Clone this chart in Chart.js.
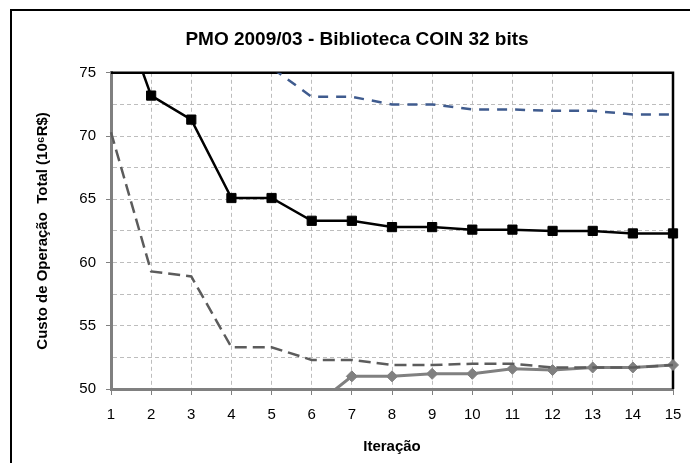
<!DOCTYPE html>
<html>
<head>
<meta charset="utf-8">
<script src="https://cdn.jsdelivr.net/npm/chart.js@4/dist/chart.umd.min.js"></script>
<style>
	html, body { margin: 0; padding: 0; background: #fff; }
	#wrap { width: 690px; height: 463px; position: relative; }
</style>
</head>
<body>
<div id="wrap"><canvas id="pmo-chart"></canvas></div>
<script>
'use strict';

// Iterations on the x axis
var iteracoes = ['1', '2', '3', '4', '5', '6', '7', '8', '9', '10', '11', '12', '13', '14', '15'];

// Black line with square markers
var custoTotal = [82, 73.2, 71.3, 65.1, 65.1, 63.3, 63.3, 62.8, 62.8, 62.6, 62.6, 62.5, 62.5, 62.3, 62.3];
// Blue dashed line (upper bound)
var limiteSuperior = [90, 85, 80, 77, 75.4, 73.1, 73.1, 72.5, 72.5, 72.1, 72.1, 72.0, 72.0, 71.7, 71.7];
// Grey dashed line
var limiteInferior = [70.3, 59.3, 58.9, 53.3, 53.3, 52.3, 52.3, 51.9, 51.9, 52.0, 52.0, 51.7, 51.7, 51.7, 51.9];
// Grey line with diamond markers
var custoInferior = [46, 46.5, 47, 47.5, 48, 48.5, 51.0, 51.0, 51.2, 51.2, 51.6, 51.5, 51.7, 51.7, 51.9];

// y axis range and ticks
var yMin = 50;
var yMax = 75;
var yStep = 2.5;

var fontFamily = '"Liberation Sans", Arial, sans-serif';
var clipArea = { left: 12, right: 12, top: 0, bottom: 0 };

// Outer frame plus the black top/right border of the plot area
var framePlugin = {
	id: 'frame',
	beforeDatasetsDraw: function (chart) {
		var ctx = chart.ctx;
		var a = chart.chartArea;
		ctx.save();
		ctx.strokeStyle = '#000';
		ctx.lineWidth = 2;
		ctx.strokeRect(11, 10, 720, 520);
		ctx.lineWidth = 2.5;
		ctx.beginPath();
		ctx.moveTo(a.left, a.top);
		ctx.lineTo(a.right, a.top);
		ctx.lineTo(a.right, a.bottom);
		ctx.stroke();
		ctx.restore();
	}
};

new Chart(document.getElementById('pmo-chart').getContext('2d'), {
	type: 'line',
	data: {
		labels: iteracoes,
		datasets: [
			{
				data: limiteSuperior,
				borderColor: '#3f5b8e',
				borderWidth: 2.5,
				borderDash: [10, 8],
				pointRadius: 0,
				tension: 0,
				clip: clipArea
			},
			{
				data: limiteInferior,
				borderColor: '#5c5c5c',
				borderWidth: 2.5,
				borderDash: [12, 6],
				pointRadius: 0,
				tension: 0,
				clip: clipArea
			},
			{
				data: custoInferior,
				borderColor: '#808080',
				backgroundColor: '#808080',
				borderWidth: 3,
				pointStyle: 'rectRot',
				pointRadius: 5.5,
				pointBorderWidth: 1,
				tension: 0,
				clip: clipArea
			},
			{
				data: custoTotal,
				borderColor: '#000',
				backgroundColor: '#000',
				borderWidth: 2.5,
				pointStyle: 'rect',
				pointRadius: 6.5,
				pointBorderWidth: 1,
				tension: 0,
				clip: clipArea
			}
		]
	},
	options: {
		responsive: true,
		maintainAspectRatio: false,
		animation: false,
		layout: { padding: { left: 24, top: 0, right: 0, bottom: 0 } },
		plugins: {
			legend: { display: false },
			tooltip: { enabled: false },
			title: {
				display: true,
				text: 'PMO 2009/03 - Biblioteca COIN 32 bits',
				color: '#000',
				font: { family: fontFamily, size: 19, weight: 'bold', lineHeight: 1.2 },
				padding: { top: 28, bottom: 22 }
			}
		},
		scales: {
			x: {
				type: 'category',
				offset: false,
				grid: {
					offset: false,
					color: '#bdbdbd',
					lineWidth: 1,
					tickLength: 6,
					tickColor: '#808080',
					tickWidth: 1
				},
				border: { color: '#808080', width: 3, dash: [4, 3] },
				ticks: {
					autoSkip: false,
					maxRotation: 0,
					color: '#000',
					padding: 11,
					font: { family: fontFamily, size: 15 }
				},
				title: {
					display: true,
					text: 'Iteração',
					color: '#000',
					font: { family: fontFamily, size: 15, weight: 'bold', lineHeight: 1.2 },
					padding: { top: 0, bottom: 7 }
				},
				afterFit: function (scale) {
					scale.height = 74;
					scale.paddingRight = 17;
				}
			},
			y: {
				min: yMin,
				max: yMax,
				grid: {
					color: '#bdbdbd',
					lineWidth: 1,
					tickLength: 5,
					tickWidth: 1,
					tickColor: function (c) {
						return c.tick && c.tick.value % 5 === 0 ? '#808080' : 'rgba(0,0,0,0)';
					}
				},
				border: { color: '#808080', width: 3, dash: [4, 3] },
				ticks: {
					stepSize: yStep,
					color: '#000',
					padding: 10,
					font: { family: fontFamily, size: 15 },
					callback: function (value) {
						return value % 5 === 0 ? value : '';
					}
				},
				title: {
					display: true,
					text: 'Custo de Operação  Total (10⁶R$)',
					color: '#000',
					font: { family: fontFamily, size: 15, weight: 'bold', lineHeight: 1.2 },
					padding: { top: 10, bottom: 0 }
				},
				afterFit: function (scale) {
					scale.width = 87;
				}
			}
		}
	},
	plugins: [framePlugin]
});
</script>
</body>
</html>
